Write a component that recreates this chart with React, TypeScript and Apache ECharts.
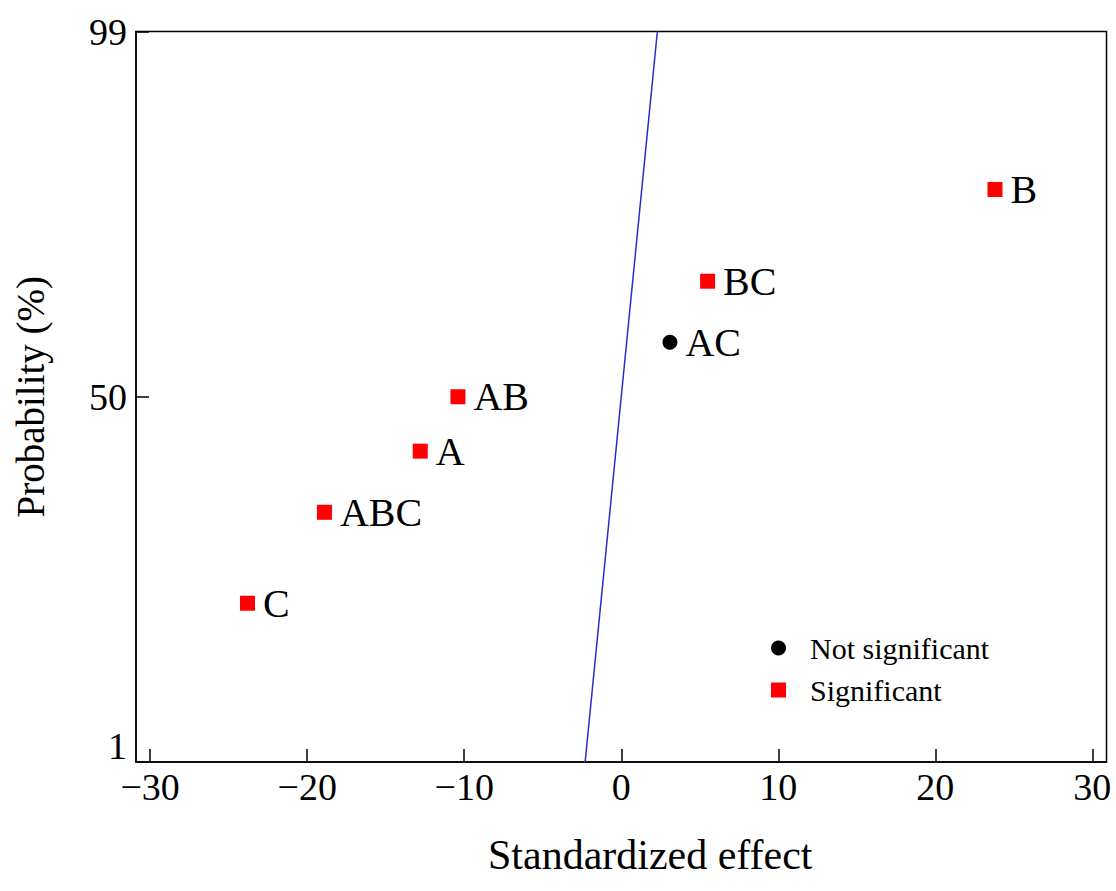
import React, { useEffect, useRef } from "react";
import * as echarts from "echarts";

// Significant effects (red squares)
const sigNames = ["C", "ABC", "A", "AB", "BC", "B"];
const sigEffects = [-23.8, -18.9, -12.8, -10.4, 5.5, 23.8];
const sigProb = [22.3, 34.5, 42.7, 50.0, 65.5, 77.8];

// Not significant effects (black circles)
const nsNames = ["AC"];
const nsEffects = [3.1];
const nsProb = [57.3];

// Reference (normal) line
const lineEffects = [-2.3, 2.3];
const lineProb = [1, 99];

const xTicks = [-30, -20, -10, 0, 10, 20, 30];
const yTicks = [1, 50, 99];

const FONT = "'Liberation Serif', 'Times New Roman', serif";

export default function App() {
  const ref = useRef<HTMLDivElement>(null);
  useEffect(() => {
    if (!ref.current) return;
    const chart = echarts.init(ref.current, undefined, { renderer: "svg" });
    const labelStyle = {
      show: true,
      position: "right",
      distance: 8,
      formatter: (p: any) => p.name,
      color: "#000",
      fontFamily: FONT,
      fontSize: 40,
    };
    chart.setOption({
      animation: false,
      backgroundColor: "#fff",
      textStyle: { fontFamily: FONT },
      grid: {
        left: 136,
        top: 31.5,
        right: 9.5,
        bottom: 129,
        show: true,
        borderColor: "#000",
        borderWidth: 1.5,
        backgroundColor: "transparent",
      },
      legend: {
        orient: "vertical",
        left: 766,
        top: 628,
        itemWidth: 15,
        itemHeight: 15,
        itemGap: 12,
        data: [
          { name: "Not significant", icon: "circle" },
          { name: "Significant", icon: "rect" },
        ],
        itemStyle: { opacity: 1 },
        textStyle: {
          fontFamily: FONT,
          fontSize: 30,
          lineHeight: 30,
          color: "#000",
          padding: [0, 0, 0, 19],
        },
      },
      xAxis: {
        type: "value",
        min: -30.9,
        max: 30.9,
        name: "Standardized effect",
        nameLocation: "middle",
        nameGap: 72,
        nameTextStyle: {
          fontFamily: FONT,
          fontSize: 42,
          color: "#000",
          padding: [0, 0, 0, 58],
        },
        splitLine: { show: false },
        axisLine: { show: true, onZero: false, lineStyle: { color: "#000", width: 1.5 } },
        axisTick: {
          show: true,
          inside: true,
          length: 13,
          customValues: xTicks,
          lineStyle: { color: "#000", width: 1.5 },
        },
        axisLabel: {
          customValues: xTicks,
          margin: 6,
          fontFamily: FONT,
          fontSize: 38,
          color: "#000",
          formatter: (v: number) => String(v).replace("-", "\u2212"),
        },
      },
      yAxis: {
        type: "value",
        min: 1,
        max: 99,
        name: "Probability (%)",
        nameLocation: "middle",
        nameGap: 86,
        nameTextStyle: { fontFamily: FONT, fontSize: 39, color: "#000" },
        splitLine: { show: false },
        axisLine: { show: true, onZero: false, lineStyle: { color: "#000", width: 1.5 } },
        axisTick: {
          show: true,
          inside: true,
          length: 13,
          customValues: yTicks,
          lineStyle: { color: "#000", width: 1.5 },
        },
        axisLabel: {
          customValues: yTicks,
          margin: 9,
          fontFamily: FONT,
          fontSize: 38,
          color: "#000",
          formatter: (v: number) => (v === 1 ? "{lo|1}" : String(v)),
          rich: {
            lo: { fontFamily: FONT, fontSize: 38, color: "#000", padding: [0, 0, 32, 0] },
          },
        },
      },
      series: [
        {
          name: "line",
          type: "line",
          data: lineEffects.map((x, i) => [x, lineProb[i]]),
          symbol: "none",
          lineStyle: { color: "#2b2bcc", width: 1.5 },
          silent: true,
          z: 1,
        },
        {
          name: "Not significant",
          type: "scatter",
          symbol: "circle",
          symbolSize: 15,
          itemStyle: { color: "#000", opacity: 1 },
          data: nsNames.map((n, i) => ({ name: n, value: [nsEffects[i], nsProb[i]] })),
          label: labelStyle,
          z: 3,
        },
        {
          name: "Significant",
          type: "scatter",
          symbol: "rect",
          symbolSize: 15,
          itemStyle: { color: "#ff0000", opacity: 1 },
          data: sigNames.map((n, i) => ({ name: n, value: [sigEffects[i], sigProb[i]] })),
          label: labelStyle,
          z: 3,
        },
      ],
    });
    return () => chart.dispose();
  }, []);
  return (
    <div
      ref={ref}
      style={{ position: "fixed", left: 0, top: 0, width: 1116, height: 891 }}
    />
  );
}
